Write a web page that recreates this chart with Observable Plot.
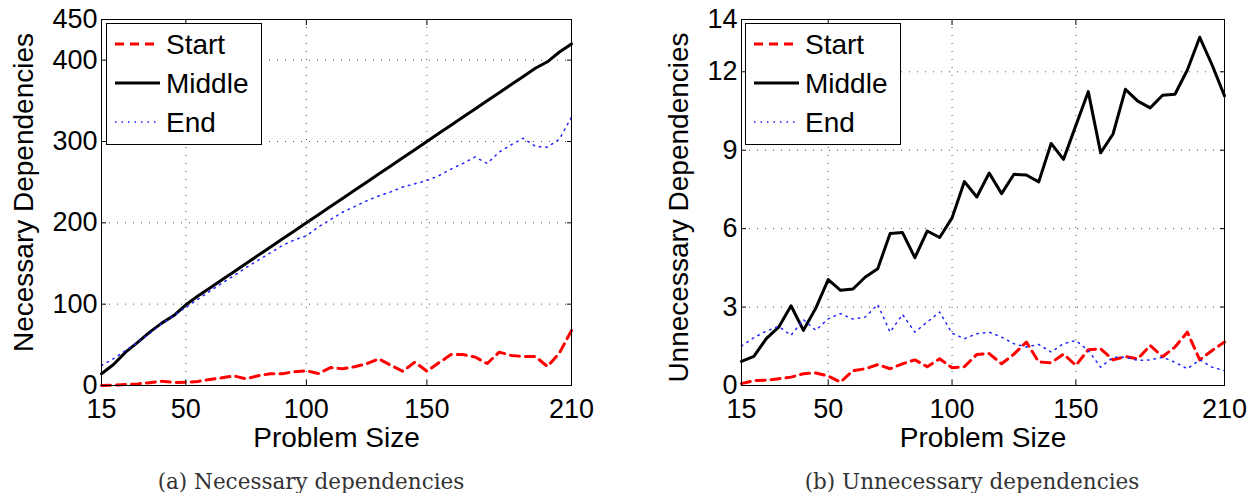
<!DOCTYPE html>
<html>
<head>
<meta charset="utf-8">
<script src="https://cdn.jsdelivr.net/npm/d3@7"></script>
<script src="https://cdn.jsdelivr.net/npm/@observablehq/plot@0.6"></script>
<style>
  html, body { margin: 0; padding: 0; background: white; }
  #root { position: relative; width: 1252px; height: 493px; overflow: hidden; }
  .col { position: absolute; top: 0; }
  .cap { position: absolute; top: 470px; font-family: "DejaVu Serif", "Liberation Serif", serif; font-size: 21.5px; color: #333; white-space: nowrap; transform: translateX(-50%); line-height: 24px; }
</style>
</head>
<body>
<div id="root">
  <div class="col" id="a" style="left:0px"></div>
  <div class="col" id="b" style="left:626px"></div>
  <div class="cap" style="left:311px">(a) Necessary dependencies</div>
  <div class="cap" style="left:972px">(b) Unnecessary dependencies</div>
</div>
<script>
// ---- data ----
const sizes = [15,20,25,30,35,40,45,50,55,60,65,70,75,80,85,90,95,100,105,110,115,120,125,130,135,140,145,150,155,160,165,170,175,180,185,190,195,200,205,210];
const seriesNames = ["Start", "Middle", "End"];

const neededStart = [0,0.5,1.2,2,3.5,5.3,3.8,4,5,7.4,9.5,11.7,8.2,12,14.4,14.4,17,18,14.8,22,20.5,23,26.7,32.8,25,17.6,28.7,17.6,28,38,38,35,27,41,37,35.7,35.7,23.4,40,67.6];
const neededMiddle = [14.4,25.8,41,53,65.6,76.7,86,99.2,110,120,130,140,150,160,170,180,190,200,210,220,230,240,250,260,270,280,290,300,310,320,330,340,350,360,370,380,390,398,410,420];
const neededEnd = [24.6,33,43,53,64,76,86,96,106,116,126,135,145,154,163,172,179,184,195,204,213,220,227,233,238,244,248,252,258,266,273,281,273,287,296,304,294,293,303,330];

const unneededStart = [0.07,0.19,0.2,0.26,0.32,0.45,0.48,0.36,0.13,0.57,0.64,0.8,0.64,0.83,0.98,0.72,1.02,0.68,0.72,1.19,1.22,0.83,1.2,1.66,0.9,0.87,1.2,0.77,1.37,1.4,0.98,1.11,1.02,1.53,1.1,1.47,2.04,0.98,1.34,1.66];
const unneededMiddle = [0.92,1.11,1.79,2.23,3.05,2.11,2.96,4.05,3.64,3.69,4.15,4.47,5.81,5.85,4.89,5.91,5.66,6.41,7.8,7.21,8.13,7.34,8.08,8.05,7.79,9.26,8.65,9.95,11.24,8.9,9.62,11.33,10.88,10.62,11.1,11.14,12.07,13.32,12.26,11.08];
const unneededEnd = [1.51,1.83,2.08,2.26,1.92,2.52,2.11,2.55,2.75,2.54,2.62,3.1,2.04,2.72,2.04,2.43,2.81,2.0,1.79,1.98,2.04,1.85,1.6,1.47,1.57,1.28,1.6,1.72,1.34,0.7,1.08,1.08,0.96,0.98,1.08,0.89,0.64,0.98,0.7,0.57];

const xTicks = [15,50,100,150,210];
const xGrid = [50,100,150];
const leftYTicks = [0,100,200,300,400,450];
const leftYGrid = [100,200,300,400];
const rightYTicks = [0,3,6,9,12,14];
const rightYGrid = [3,6,9,12];
const xLabel = "Problem Size";

// ---- styles ----
const styles = {
  Start: {stroke: "#ff0000", strokeWidth: 3, strokeDasharray: "9,6"},
  Middle: {stroke: "#000000", strokeWidth: 3},
  End: {stroke: "#2020ff", strokeWidth: 1.5, strokeDasharray: "1.5,5"}
};
const FONT = "'Liberation Sans', Arial, Helvetica, sans-serif";

function chart(o) {
  const mk = arr => sizes.map((x, i) => ({x, y: arr[i]}));
  const gridStyle = {stroke: "#333", strokeOpacity: 0.85, strokeDasharray: "1,7", strokeWidth: 1};
  const svg = Plot.plot({
    width: 626, height: 462,
    marginLeft: o.marginLeft, marginRight: o.marginRight, marginTop: 19, marginBottom: 77,
    style: {fontFamily: FONT, fontSize: "27px", color: "black", background: "white", overflow: "visible"},
    x: {domain: [15, 210], label: null},
    y: {domain: o.yDomain, label: null},
    marks: [
      Plot.gridX(xGrid, gridStyle),
      Plot.gridY(o.yGrid, gridStyle),
      Plot.line(mk(o.start), {x: "x", y: "y", ...styles.Start}),
      Plot.line(mk(o.middle), {x: "x", y: "y", ...styles.Middle}),
      Plot.line(mk(o.end), {x: "x", y: "y", ...styles.End}),
      Plot.frame({stroke: "black", strokeWidth: 1}),
      Plot.axisX(xTicks, {anchor: "bottom", tickSize: -5, tickFormat: () => "", label: null}),
      Plot.axisX(xTicks, {anchor: "top", tickSize: -5, tickFormat: () => "", label: null}),
      Plot.axisY(o.yTicks, {anchor: "left", tickSize: -5, tickFormat: () => "", label: null}),
      Plot.axisY(o.yTicks, {anchor: "right", tickSize: -5, tickFormat: () => "", label: null}),
      Plot.axisX(xTicks, {anchor: "bottom", tickSize: 0, tickPadding: 13, label: null, fontSize: 27}),
      Plot.axisY(o.yTicks, {anchor: "left", tickSize: 0, tickPadding: 4, label: null, fontSize: 27}),
      Plot.text([xLabel], {frameAnchor: "bottom", dy: 42, lineAnchor: "top", fontSize: 28, text: d => d}),
      Plot.text([o.yLabel], {frameAnchor: "left", dx: -o.labelOffset, dy: o.labelDy, rotate: -90, textAnchor: "middle", lineAnchor: "top", fontSize: 28, text: d => d})
    ]
  });
  // legend
  const g = d3.select(svg).append("g").attr("font-family", FONT).attr("font-size", 28).attr("text-anchor", "start");
  const L = o.legend;
  g.append("rect").attr("x", L.x + 0.5).attr("y", 23.5).attr("width", 155).attr("height", 121)
    .attr("fill", "white").attr("stroke", "black").attr("stroke-width", 1);
  seriesNames.forEach((name, i) => {
    const cy = 44 + i * 39;
    const s = styles[name];
    g.append("line").attr("x1", L.x + 9).attr("x2", L.x + 54).attr("y1", cy).attr("y2", cy)
      .attr("stroke", s.stroke).attr("stroke-width", s.strokeWidth)
      .attr("stroke-dasharray", s.strokeDasharray || null);
    g.append("text").attr("x", L.x + 60).attr("y", cy + 10).attr("fill", "black")
      .attr("text-anchor", "start").text(name);
  });
  return svg;
}

document.getElementById("a").appendChild(chart({
  yDomain: [0, 450], yTicks: leftYTicks, yGrid: leftYGrid, yLabel: "Necessary Dependencies",
  start: neededStart, middle: neededMiddle, end: neededEnd,
  marginLeft: 101, marginRight: 55, labelOffset: 88, labelDy: -10, legend: {x: 106}
}));
document.getElementById("b").appendChild(chart({
  yDomain: [0, 14], yTicks: rightYTicks, yGrid: rightYGrid, yLabel: "Unnecessary Dependencies",
  start: unneededStart, middle: unneededMiddle, end: unneededEnd,
  marginLeft: 115, marginRight: 28, labelOffset: 73, labelDy: 5, legend: {x: 119}
}));
</script>
</body>
</html>
